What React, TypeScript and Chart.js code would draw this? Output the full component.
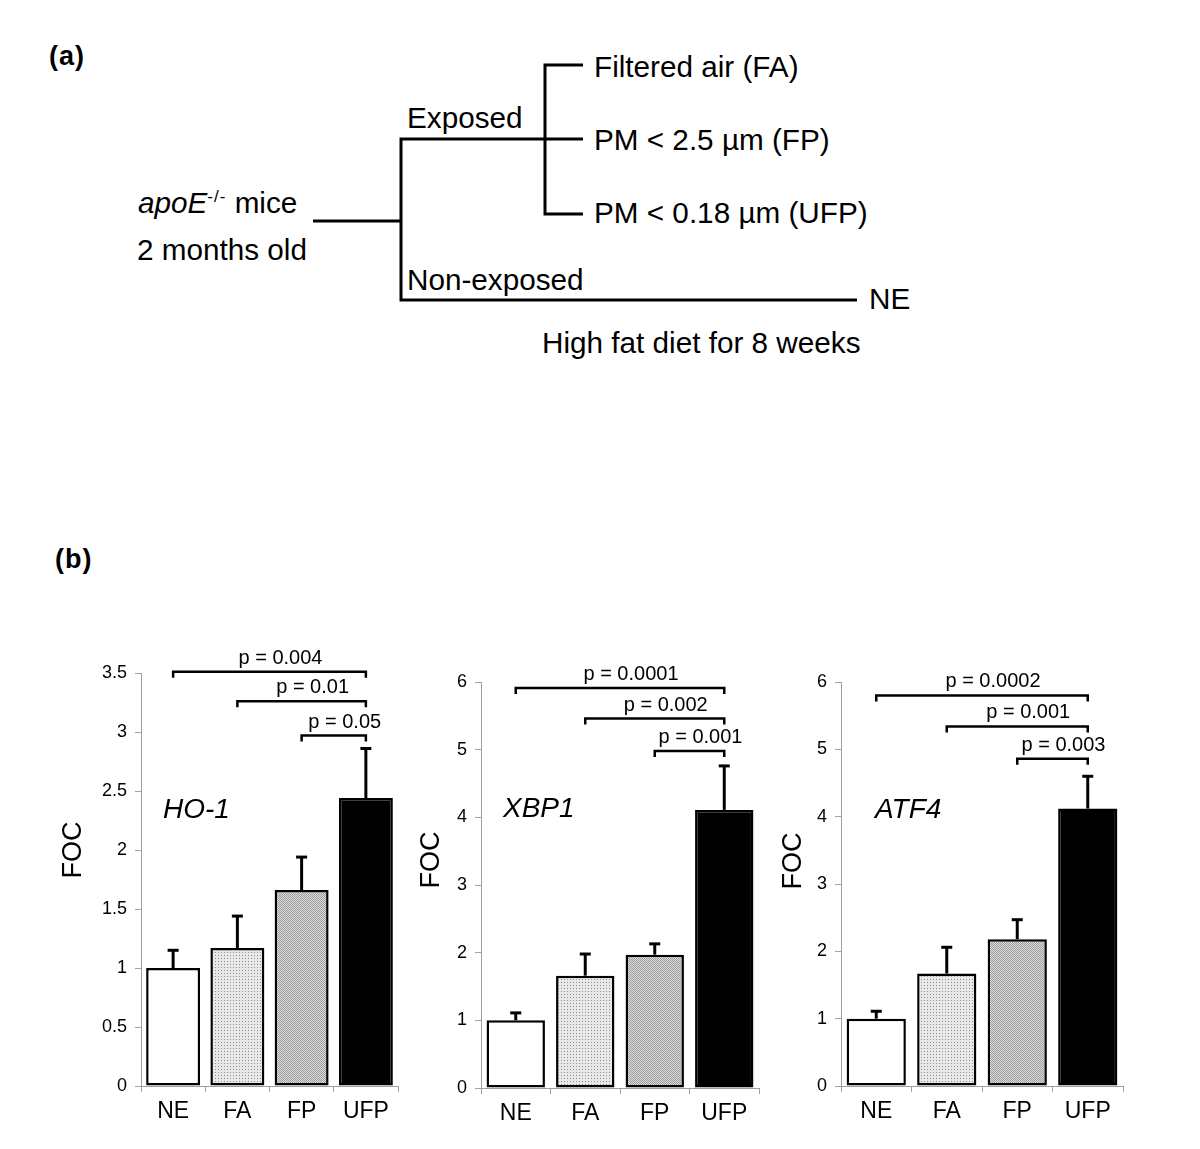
import React, { useEffect, useRef } from "react";
import { Chart, registerables } from "chart.js";

Chart.register(...registerables);

// ---------------- data ----------------
const categories = ["NE", "FA", "FP", "UFP"];

const ho1Means = [1.0, 1.17, 1.66, 2.44];
const ho1ErrTops = [1.15, 1.44, 1.94, 2.86];
const ho1Ticks = [0, 0.5, 1, 1.5, 2, 2.5, 3, 3.5];
const ho1Pvalues = ["p = 0.004", "p = 0.01", "p = 0.05"];
const ho1BracketLevels = [3.51, 3.26, 2.97];

const xbp1Means = [1.0, 1.66, 1.97, 4.11];
const xbp1ErrTops = [1.11, 1.98, 2.13, 4.76];
const xbp1Ticks = [0, 1, 2, 3, 4, 5, 6];
const xbp1Pvalues = ["p = 0.0001", "p = 0.002", "p = 0.001"];
const xbp1BracketLevels = [5.91, 5.46, 4.98];

const atf4Means = [1.0, 1.67, 2.18, 4.12];
const atf4ErrTops = [1.11, 2.06, 2.47, 4.6];
const atf4Ticks = [0, 1, 2, 3, 4, 5, 6];
const atf4Pvalues = ["p = 0.0002", "p = 0.001", "p = 0.003"];
const atf4BracketLevels = [5.8, 5.34, 4.86];

// each bracket compares bracketFrom[k] with bracketTo
const bracketFrom = [0, 1, 2];
const bracketTo = 3;

const yTitle = "FOC";

// ---------------- styles / layout ----------------
const FONT = "'Liberation Sans', Arial, Helvetica, sans-serif";

type Layout = {
  canvas: { left: number; top: number; w: number; h: number };
  area: { left: number; top: number; right: number; bottom: number };
  foc: { x: number; y: number };
  gene: { x: number; y: number };
};

type Spec = {
  gene: string;
  means: number[];
  errTops: number[];
  ticks: number[];
  pvals: string[];
  levels: number[];
  layout: Layout;
};

const specs: Spec[] = [
  {
    gene: "HO-1",
    means: ho1Means,
    errTops: ho1ErrTops,
    ticks: ho1Ticks,
    pvals: ho1Pvalues,
    levels: ho1BracketLevels,
    layout: {
      canvas: { left: 40, top: 630, w: 370, h: 510 },
      area: { left: 141, top: 673, right: 398, bottom: 1086 },
      foc: { x: 74, y: 850 },
      gene: { x: 163, y: 818 },
    },
  },
  {
    gene: "XBP1",
    means: xbp1Means,
    errTops: xbp1ErrTops,
    ticks: xbp1Ticks,
    pvals: xbp1Pvalues,
    levels: xbp1BracketLevels,
    layout: {
      canvas: { left: 410, top: 630, w: 360, h: 510 },
      area: { left: 481, top: 682, right: 759, bottom: 1088 },
      foc: { x: 432, y: 860 },
      gene: { x: 503, y: 817 },
    },
  },
  {
    gene: "ATF4",
    means: atf4Means,
    errTops: atf4ErrTops,
    ticks: atf4Ticks,
    pvals: atf4Pvalues,
    levels: atf4BracketLevels,
    layout: {
      canvas: { left: 770, top: 630, w: 420, h: 510 },
      area: { left: 841, top: 682, right: 1123, bottom: 1086 },
      foc: { x: 794, y: 861 },
      gene: { x: 875, y: 818 },
    },
  },
];

const X_AXIS_H = 50;

function makePattern(kind: "light" | "medium"): CanvasPattern | string {
  const c = document.createElement("canvas");
  const ctx = c.getContext("2d");
  if (!ctx) return kind === "light" ? "#dcdcdc" : "#bebebe";
  if (kind === "light") {
    c.width = 3;
    c.height = 3;
    ctx.fillStyle = "#e8e8e8";
    ctx.fillRect(0, 0, 3, 3);
    ctx.fillStyle = "#8e8e8e";
    ctx.fillRect(1, 1, 1, 1);
  } else {
    c.width = 2;
    c.height = 2;
    ctx.fillStyle = "#dcdcdc";
    ctx.fillRect(0, 0, 2, 2);
    ctx.fillStyle = "#9c9c9c";
    ctx.fillRect(0, 0, 1, 1);
    ctx.fillRect(1, 1, 1, 1);
  }
  const p = ctx.createPattern(c, "repeat");
  return p || (kind === "light" ? "#dcdcdc" : "#bebebe");
}

function BarPanel({ spec }: { spec: Spec }) {
  const ref = useRef<HTMLCanvasElement | null>(null);
  const L = spec.layout;

  useEffect(() => {
    if (!ref.current) return;
    const cv = L.canvas;
    const ar = L.area;
    const fills = ["#ffffff", makePattern("light"), makePattern("medium"), "#000000"];

    const overlay = {
      id: "overlay",
      afterDatasetsDraw(chart: any) {
        const ctx: CanvasRenderingContext2D = chart.ctx;
        const xs = chart.scales.x;
        const ys = chart.scales.y;
        const meta = chart.getDatasetMeta(0);
        ctx.save();
        ctx.strokeStyle = "#000";
        ctx.fillStyle = "#000";
        // error bars (upper only)
        ctx.lineWidth = 3;
        meta.data.forEach((bar: any, i: number) => {
          const top = ys.getPixelForValue(spec.means[i]);
          const et = ys.getPixelForValue(spec.errTops[i]);
          ctx.beginPath();
          ctx.moveTo(bar.x, top);
          ctx.lineTo(bar.x, et);
          ctx.stroke();
          ctx.beginPath();
          ctx.moveTo(bar.x - 5.5, et);
          ctx.lineTo(bar.x + 5.5, et);
          ctx.stroke();
        });
        // significance brackets
        ctx.lineWidth = 2.5;
        ctx.font = `20px ${FONT}`;
        ctx.textAlign = "center";
        ctx.textBaseline = "alphabetic";
        bracketFrom.forEach((fi, k) => {
          const x1 = xs.getPixelForValue(fi);
          const x2 = xs.getPixelForValue(bracketTo);
          const yy = ys.getPixelForValue(spec.levels[k]);
          ctx.beginPath();
          ctx.moveTo(x1, yy + 6);
          ctx.lineTo(x1, yy);
          ctx.lineTo(x2, yy);
          ctx.lineTo(x2, yy + 6);
          ctx.stroke();
          ctx.fillText(spec.pvals[k], (x1 + x2) / 2 + 11, yy - 8);
        });
        // gene name
        ctx.font = `italic 28px ${FONT}`;
        ctx.textAlign = "left";
        ctx.fillText(spec.gene, L.gene.x - cv.left, L.gene.y - cv.top);
        // y title
        ctx.translate(L.foc.x - cv.left, L.foc.y - cv.top);
        ctx.rotate(-Math.PI / 2);
        ctx.font = `27px ${FONT}`;
        ctx.textAlign = "center";
        ctx.textBaseline = "middle";
        ctx.fillText(yTitle, 0, 0);
        ctx.restore();
      },
    };

    const chart = new Chart(ref.current, {
      type: "bar",
      data: {
        labels: categories,
        datasets: [
          {
            data: spec.means,
            backgroundColor: fills as any,
            borderColor: "#000",
            borderWidth: 2.5,
            borderSkipped: false,
            categoryPercentage: 1,
            barPercentage: 0.84,
          },
        ],
      },
      options: {
        animation: false,
        responsive: false,
        devicePixelRatio: 1,
        layout: {
          padding: {
            left: 0,
            top: ar.top - cv.top,
            right: cv.left + cv.w - ar.right,
            bottom: cv.top + cv.h - ar.bottom - X_AXIS_H,
          },
        },
        plugins: {
          legend: { display: false },
          tooltip: { enabled: false },
          title: { display: false },
        },
        scales: {
          x: {
            afterFit(scale: any) {
              scale.height = X_AXIS_H;
            },
            grid: {
              drawOnChartArea: false,
              drawTicks: true,
              tickLength: 6,
              color: "#a0a0a0",
              offset: true,
            },
            border: { display: true, color: "#a0a0a0", width: 1 },
            ticks: {
              color: "#000",
              font: { family: FONT, size: 23 },
              padding: 6,
            },
          },
          y: {
            min: 0,
            max: spec.ticks[spec.ticks.length - 1],
            afterFit(scale: any) {
              scale.width = ar.left - cv.left;
            },
            afterBuildTicks(scale: any) {
              scale.ticks = spec.ticks.map((v) => ({ value: v }));
            },
            grid: {
              drawOnChartArea: false,
              drawTicks: true,
              tickLength: 6,
              color: "#a0a0a0",
            },
            border: { display: true, color: "#a0a0a0", width: 1 },
            ticks: {
              color: "#000",
              font: { family: FONT, size: 18 },
              padding: 8,
              callback: (v: any) => String(v),
            },
          },
        },
      },
      plugins: [overlay],
    });
    return () => chart.destroy();
  }, []);

  return (
    <canvas
      ref={ref}
      width={L.canvas.w}
      height={L.canvas.h}
      style={{
        position: "absolute",
        left: L.canvas.left,
        top: L.canvas.top,
        width: L.canvas.w,
        height: L.canvas.h,
      }}
    />
  );
}

function Diagram() {
  const t = { fontFamily: FONT, fontSize: 29.7, fill: "#000" } as const;
  const bold = { fontFamily: FONT, fontSize: 27, fontWeight: "bold", letterSpacing: 1 } as const;
  return (
    <svg
      width={1200}
      height={620}
      style={{ position: "absolute", left: 0, top: 0 }}
    >
      <text x={49} y={65} style={bold}>
        (a)
      </text>
      <text x={55} y={568} style={bold}>
        (b)
      </text>
      <g stroke="#000" strokeWidth={3} fill="none">
        <path d="M313 221 H401" />
        <path d="M583 139 H401 V300 H857" />
        <path d="M583 65 H545 V214 H583" />
      </g>
      <text x={138} y={213} style={t}>
        <tspan fontStyle="italic">apoE</tspan>
        <tspan fontSize={17} dy={-11} letterSpacing={1}>-/-</tspan>
        <tspan dy={11}> mice</tspan>
      </text>
      <text x={137} y={260} style={t}>2 months old</text>
      <text x={407} y={128} style={t}>Exposed</text>
      <text x={407} y={290} style={t}>Non-exposed</text>
      <text x={594} y={77} style={t}>Filtered air (FA)</text>
      <text x={594} y={150} style={t}>PM &lt; 2.5 µm (FP)</text>
      <text x={594} y={223} style={t}>PM &lt; 0.18 µm (UFP)</text>
      <text x={869} y={309} style={t}>NE</text>
      <text x={542} y={353} style={t}>High fat diet for 8 weeks</text>
    </svg>
  );
}

export default function App() {
  return (
    <div
      style={{
        position: "absolute",
        left: 0,
        top: 0,
        width: 1200,
        height: 1149,
        background: "#fff",
        overflow: "hidden",
      }}
    >
      <Diagram />
      {specs.map((s) => (
        <BarPanel key={s.gene} spec={s} />
      ))}
    </div>
  );
}
